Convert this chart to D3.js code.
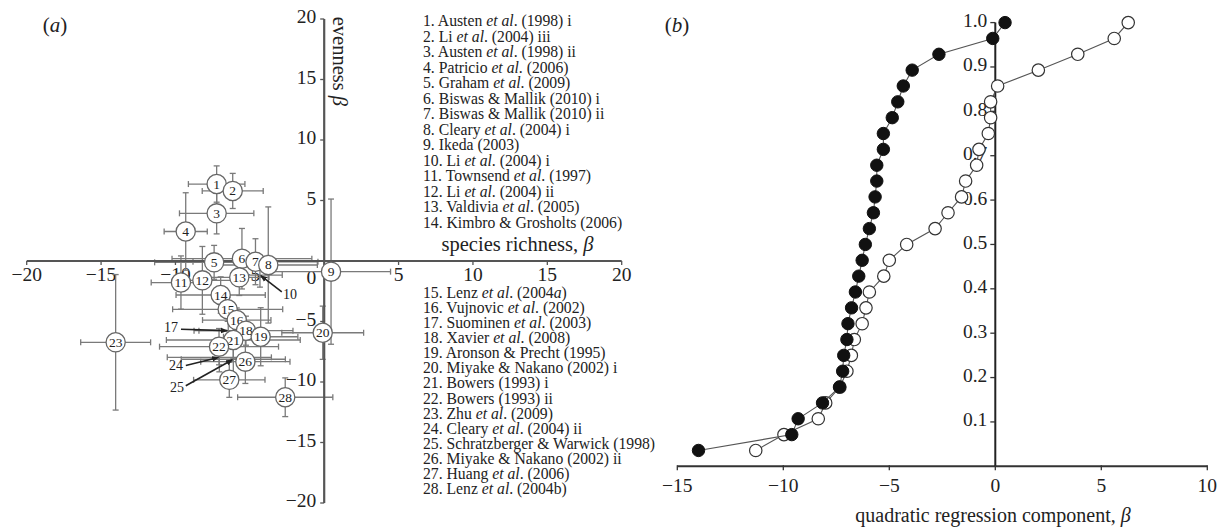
<!DOCTYPE html>
<html><head><meta charset="utf-8">
<script src="https://cdn.jsdelivr.net/npm/d3@7"></script>
<style>
html,body{margin:0;padding:0;background:#fff;}
svg{display:block;font-family:"Liberation Serif","Times New Roman",serif;}
</style></head>
<body>
<svg id="c" width="1223" height="529"></svg>
<script>
// ---------- data ----------
const studyIds = d3.range(1, 29);
const studies = [
  "Austen *et al*. (1998) i","Li *et al*. (2004) iii","Austen *et al*. (1998) ii","Patricio *et al*. (2006)",
  "Graham *et al*. (2009)","Biswas & Mallik (2010) i","Biswas & Mallik (2010) ii","Cleary *et al*. (2004) i",
  "Ikeda (2003)","Li *et al*. (2004) i","Townsend *et al*. (1997)","Li *et al*. (2004) ii",
  "Valdivia *et al*. (2005)","Kimbro & Grosholts (2006)","Lenz *et al*. (2004*a*)","Vujnovic *et al*. (2002)",
  "Suominen *et al*. (2003)","Xavier *et al*. (2008)","Aronson & Precht (1995)","Miyake & Nakano (2002) i",
  "Bowers (1993) i","Bowers (1993) ii","Zhu *et al*. (2009)","Cleary *et al*. (2004) ii",
  "Schratzberger & Warwick (1998)","Miyake & Nakano (2002) ii","Huang *et al*. (2006)","Lenz *et al*. (2004b)"
];
const richness    = [-7.23,-6.15,-7.23,-9.31,-7.4,-5.53,-4.62,-3.76,0.46,-4.32,-9.63,-8.19,-5.71,-6.96,-6.49,-5.88,-6.45,-5.26,-4.27,-0.1,-6.11,-7.07,-14.02,-7.05,-6.11,-5.3,-6.38,-2.62];
const evenness    = [6.36,5.79,3.94,2.44,-0.11,0.19,-0.06,-0.33,-0.88,-1.16,-1.78,-1.6,-1.35,-2.81,-3.99,-4.88,-5.76,-5.76,-6.26,-5.93,-6.53,-7.08,-6.72,-7.96,-8.12,-8.32,-9.82,-11.26];
const richnessErr = [1.9,2.05,2.5,1.45,4.0,4.7,4.2,3.3,4.0,1.5,2.0,2.0,2.0,3.0,3.7,2.3,2.3,3.16,2.5,2.75,4.5,4.0,2.35,3.5,3.5,3.0,2.4,3.2];
const evennessErr = [1.5,1.45,1.7,3.2,1.4,2.5,1.9,4.8,6.0,1.0,2.2,2.8,1.5,1.5,1.0,1.0,1.0,1.2,2.4,2.2,1.5,1.5,5.6,1.2,1.5,1.8,1.45,1.6];
// studies shown with a pointer label instead of a circle, label location in data units
const calloutIds = [10, 17, 24, 25];
const calloutX   = [-2.3, -10.3, -9.96, -9.9];
const calloutY   = [-2.89, -5.62, -8.76, -10.58];

// panel (b): sorted quadratic components (cumulative)
const richnessCum = [-14.0,-9.6,-9.3,-8.15,-7.35,-7.2,-7.15,-7.0,-6.95,-6.78,-6.6,-6.44,-6.28,-6.13,-5.94,-5.75,-5.67,-5.59,-5.59,-5.28,-5.28,-4.86,-4.6,-4.34,-3.92,-2.66,-0.12,0.46];
const evennessCum = [-11.3,-9.97,-8.35,-8.0,-7.33,-7.0,-6.79,-6.65,-6.28,-6.1,-5.94,-5.26,-5.0,-4.18,-2.84,-2.23,-1.59,-1.4,-0.88,-0.77,-0.33,-0.22,-0.22,0.11,2.03,3.89,5.61,6.27];

const xTicksA = [-20,-15,-10,-5,5,10,15,20];
const yTicksA = [20,15,10,5,0,-5,-10,-15,-20];
const xTicksB = [-15,-10,-5,0,5,10];
const yTicksB = [0.1,0.2,0.3,0.4,0.5,0.6,0.7,0.8,0.9,1.0];

// ---------- helpers ----------
const svg = d3.select("#c");
const fmtMinus = v => String(v).replace("-", "\u2212");
function richText(sel, str) {
  str.split("*").forEach((part, i) => {
    if (!part) return;
    sel.append("tspan").attr("font-style", i % 2 ? "italic" : "normal").text(part);
  });
}
svg.append("defs").append("marker").attr("id","arr").attr("viewBox","0 0 10 10")
  .attr("refX",9).attr("refY",5).attr("markerWidth",7).attr("markerHeight",7)
  .attr("markerUnits","userSpaceOnUse").attr("orient","auto")
  .append("path").attr("d","M0,1 L10,5 L0,9 Z").attr("fill","#222");

// ---------- panel (a) ----------
const xA = d3.scaleLinear([-20, 20], [26.7, 621.7]);
const yA = d3.scaleLinear([-20, 20], [503, 19]);
const gA = svg.append("g");
const axisCol = "#555";

// tick labels first (data is drawn over them, as in the original)
gA.selectAll(".xl").data(xTicksA).join("text")
  .attr("x", d => xA(d)).attr("y", yA(0) + 16).attr("text-anchor", "middle")
  .attr("dominant-baseline", "middle").attr("font-size", 19.5).attr("fill", "#222").text(fmtMinus);
gA.selectAll(".yl").data(yTicksA).join("text")
  .attr("x", xA(0) - 8).attr("y", d => d === 0 ? yA(0) + 19 : yA(d))
  .attr("text-anchor", "end").attr("dominant-baseline", "middle")
  .attr("font-size", 19.5).attr("fill", "#222").text(fmtMinus);

// axis titles
const evT = gA.append("text").attr("transform", `translate(${xA(0) + 14},${yA(16.5)}) rotate(90)`)
  .attr("text-anchor", "middle").attr("dominant-baseline", "middle").attr("font-size", 20.5).attr("fill", "#222");
richText(evT, "evenness *\u03B2*");
const srT = gA.append("text").attr("x", 517.5).attr("y", 246).attr("text-anchor", "middle")
  .attr("dominant-baseline", "middle").attr("font-size", 20.5).attr("fill", "#222");
richText(srT, "species richness, *\u03B2*");
const la = svg.append("text").attr("x", 55).attr("y", 27).attr("text-anchor", "middle")
  .attr("dominant-baseline", "middle").attr("font-size", 21).attr("fill", "#222");
richText(la, "(*a*)");

// error bars
const pts = studyIds.map((id, i) => ({id, x: richness[i], y: evenness[i], ex: richnessErr[i], ey: evennessErr[i]}));
const eb = gA.append("g").attr("stroke", "#7a7a7a").attr("stroke-width", 1.3).attr("fill", "none");
const cap = 3;
pts.forEach(p => {
  const cx = xA(p.x), cy = yA(p.y);
  const x0 = xA(p.x - p.ex), x1 = xA(p.x + p.ex), y0 = yA(p.y + p.ey), y1 = yA(p.y - p.ey);
  eb.append("line").attr("x1", x0).attr("x2", x1).attr("y1", cy).attr("y2", cy);
  eb.append("line").attr("x1", x0).attr("x2", x0).attr("y1", cy - cap).attr("y2", cy + cap);
  eb.append("line").attr("x1", x1).attr("x2", x1).attr("y1", cy - cap).attr("y2", cy + cap);
  eb.append("line").attr("x1", cx).attr("x2", cx).attr("y1", y0).attr("y2", y1);
  eb.append("line").attr("x1", cx - cap).attr("x2", cx + cap).attr("y1", y0).attr("y2", y0);
  eb.append("line").attr("x1", cx - cap).attr("x2", cx + cap).attr("y1", y1).attr("y2", y1);
});

// axes
gA.append("line").attr("x1", xA(-20)).attr("x2", xA(20)).attr("y1", yA(0)).attr("y2", yA(0))
  .attr("stroke", axisCol).attr("stroke-width", 2.2);
gA.append("line").attr("x1", xA(0)).attr("x2", xA(0)).attr("y1", yA(20)).attr("y2", yA(-20))
  .attr("stroke", axisCol).attr("stroke-width", 2.2);
gA.selectAll(".xt").data(xTicksA).join("line")
  .attr("x1", d => xA(d)).attr("x2", d => xA(d)).attr("y1", yA(0)).attr("y2", yA(0) + 4)
  .attr("stroke", axisCol).attr("stroke-width", 1.3);
gA.selectAll(".yt").data(yTicksA).join("line")
  .attr("x1", xA(0) - 4).attr("x2", xA(0)).attr("y1", d => yA(d)).attr("y2", d => yA(d))
  .attr("stroke", axisCol).attr("stroke-width", 1.3);

// circles with numbers
const circ = pts.filter(p => !calloutIds.includes(p.id));
const cg = gA.selectAll(".pt").data(circ).join("g")
  .attr("transform", p => `translate(${xA(p.x)},${yA(p.y)})`);
cg.append("circle").attr("r", 9.6).attr("fill", "#fff").attr("stroke", "#666").attr("stroke-width", 1.3);
cg.append("text").attr("text-anchor", "middle").attr("dominant-baseline", "central")
  .attr("font-size", 13.5).attr("fill", "#222").text(p => p.id);

// callouts
calloutIds.forEach((id, k) => {
  const p = pts[id - 1];
  const lx = xA(calloutX[k]), ly = yA(calloutY[k]);
  const tx = xA(p.x), ty = yA(p.y);
  const dx = tx - lx, dy = ty - ly, L = Math.hypot(dx, dy);
  gA.append("line").attr("x1", lx + dx / L * 10).attr("y1", ly + dy / L * 7)
    .attr("x2", tx - dx / L * 1).attr("y2", ty - dy / L * 1)
    .attr("stroke", "#222").attr("stroke-width", 1.6).attr("marker-end", "url(#arr)");
  gA.append("text").attr("x", lx).attr("y", ly).attr("text-anchor", "middle")
    .attr("dominant-baseline", "middle").attr("font-size", 14).attr("fill", "#222").text(id);
});

// legend list
const leg = svg.append("g").attr("font-size", 15.7).attr("fill", "#222");
studies.forEach((s, i) => {
  const y = i < 14 ? 22 + i * 15.5 : 293.5 + (i - 14) * 15.15;
  const t = leg.append("text").attr("x", 423).attr("y", y).attr("dominant-baseline", "middle");
  richText(t, `${i + 1}. ${s}`);
});

// ---------- panel (b) ----------
const xB = d3.scaleLinear([-15, 10], [677.3, 1207.3]);
const yB = d3.scaleLinear([0, 1], [466.3, 22.6]);
const gB = svg.append("g");
const n = richnessCum.length;
const cumR = richnessCum.map((v, i) => ({x: v, y: (i + 1) / n}));
const cumE = evennessCum.map((v, i) => ({x: v, y: (i + 1) / n}));

gB.append("line").attr("x1", xB(-15)).attr("x2", xB(10)).attr("y1", yB(0)).attr("y2", yB(0))
  .attr("stroke", "#333").attr("stroke-width", 2);
gB.append("line").attr("x1", xB(0)).attr("x2", xB(0)).attr("y1", yB(0)).attr("y2", yB(1))
  .attr("stroke", "#222").attr("stroke-width", 2);
gB.selectAll(".xt").data(xTicksB).join("line")
  .attr("x1", d => xB(d)).attr("x2", d => xB(d)).attr("y1", yB(0) - 1).attr("y2", yB(0) + 4)
  .attr("stroke", "#333").attr("stroke-width", 1.3);
gB.selectAll(".xl").data(xTicksB).join("text")
  .attr("x", d => xB(d)).attr("y", yB(0) + 21).attr("text-anchor", "middle")
  .attr("dominant-baseline", "middle").attr("font-size", 19.5).attr("fill", "#222").text(fmtMinus);
gB.selectAll(".yt").data(yTicksB).join("line")
  .attr("x1", xB(0) - 5).attr("x2", xB(0)).attr("y1", d => yB(d)).attr("y2", d => yB(d))
  .attr("stroke", "#333").attr("stroke-width", 1.3);
gB.selectAll(".yl").data(yTicksB).join("text")
  .attr("x", xB(0) - 8).attr("y", d => yB(d)).attr("text-anchor", "end")
  .attr("dominant-baseline", "middle").attr("font-size", 19.5).attr("fill", "#222")
  .text(d => d.toFixed(1));
const qT = gB.append("text").attr("x", 993).attr("y", 517).attr("text-anchor", "middle")
  .attr("dominant-baseline", "middle").attr("font-size", 20).attr("fill", "#222");
richText(qT, "quadratic regression component, *\u03B2*");
const lb = svg.append("text").attr("x", 677).attr("y", 27).attr("text-anchor", "middle")
  .attr("dominant-baseline", "middle").attr("font-size", 21).attr("fill", "#222");
richText(lb, "(*b*)");

const line = d3.line().x(d => xB(d.x)).y(d => yB(d.y));
gB.append("path").datum(cumE).attr("d", line).attr("fill", "none").attr("stroke", "#555").attr("stroke-width", 1.1);
gB.selectAll(".pe").data(cumE).join("circle").attr("cx", d => xB(d.x)).attr("cy", d => yB(d.y))
  .attr("r", 6.2).attr("fill", "#fff").attr("stroke", "#333").attr("stroke-width", 1.2);
gB.append("path").datum(cumR).attr("d", line).attr("fill", "none").attr("stroke", "#555").attr("stroke-width", 1.1);
gB.selectAll(".pr").data(cumR).join("circle").attr("cx", d => xB(d.x)).attr("cy", d => yB(d.y))
  .attr("r", 6.2).attr("fill", "#111").attr("stroke", "#111").attr("stroke-width", 1);
</script>
</body></html>
